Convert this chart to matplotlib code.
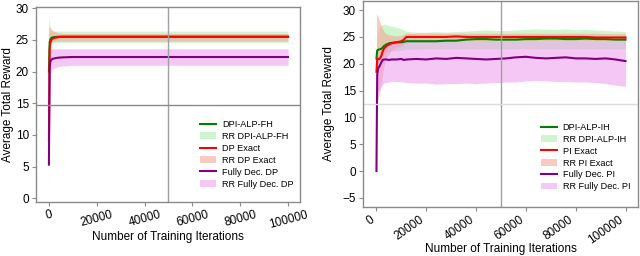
import matplotlib
matplotlib.use("Agg")
import matplotlib.pyplot as plt

plt.rcParams['font.family'] = ['Liberation Sans', 'DejaVu Sans']

# ---- left panel: finite horizon ----
x_fh = [0, 300, 600, 1000, 1500, 2500, 4000, 6000, 10000, 20000, 40000, 60000, 80000, 100000]
alp_fh = [20.0, 24.6, 25.1, 25.3, 25.4, 25.45, 25.5, 25.5, 25.5, 25.5, 25.5, 25.5, 25.5, 25.5]
alp_fh_lo = [10.0, 24.0, 24.4, 24.5, 24.6, 24.6, 24.6, 24.6, 24.6, 24.6, 24.6, 24.6, 24.6, 24.6]
alp_fh_hi = [27.5, 26.6, 26.5, 26.4, 26.4, 26.4, 26.4, 26.4, 26.4, 26.4, 26.4, 26.4, 26.4, 26.4]
dp_exact = [9.0, 23.5, 24.6, 25.0, 25.2, 25.35, 25.45, 25.5, 25.5, 25.5, 25.5, 25.5, 25.5, 25.5]
dp_exact_lo = [5.0, 23.5, 24.3, 24.6, 24.7, 24.8, 24.8, 24.8, 24.8, 24.8, 24.8, 24.8, 24.8, 24.8]
dp_exact_hi = [28.5, 27.2, 27.0, 26.8, 26.5, 26.3, 26.1, 26.0, 26.0, 26.0, 26.0, 26.0, 26.0, 26.0]
dec_dp = [5.3, 20.5, 21.6, 21.9, 22.0, 22.1, 22.2, 22.25, 22.3, 22.3, 22.3, 22.3, 22.3, 22.3]
dec_dp_lo = [1.0, 18.9, 19.6, 20.2, 20.4, 20.6, 20.8, 20.9, 21.0, 21.0, 21.0, 21.0, 21.0, 21.0]
dec_dp_hi = [29.0, 23.5, 23.6, 23.6, 23.6, 23.6, 23.6, 23.6, 23.6, 23.6, 23.6, 23.6, 23.6, 23.6]

# ---- right panel: infinite horizon ----
x_ih = [0, 300, 700, 1200, 2000, 2500, 3000, 4000, 5000, 6000, 8000, 10000, 11000, 12000,
        16000, 20000, 24000, 28000, 32000, 36000, 40000, 44000, 48000, 52000, 56000, 60000,
        64000, 68000, 72000, 76000, 80000, 84000, 88000, 92000, 96000, 100000]
alp_ih = [21.0, 22.5, 22.6, 22.7, 22.8, 23.0, 23.3, 23.6, 23.8, 23.9, 24.0, 24.0, 24.1, 24.2,
          24.2, 24.2, 24.2, 24.3, 24.3, 24.5, 24.6, 24.6, 24.5, 24.5, 24.5, 24.6,
          24.6, 24.7, 24.7, 24.6, 24.6, 24.7, 24.6, 24.6, 24.5, 24.5]
alp_ih_lo = [20.5, 19.5, 20.0, 20.5, 21.0, 21.5, 21.8, 22.0, 22.2, 22.3, 22.4, 22.5, 22.6, 22.7,
             22.7, 22.8, 22.8, 22.8, 22.8, 22.8, 22.8, 22.8, 22.8, 22.8, 22.8, 22.8,
             22.8, 22.8, 22.8, 22.8, 22.8, 22.8, 22.8, 22.8, 22.8, 22.8]
alp_ih_hi = [21.5, 25.0, 26.0, 26.8, 27.2, 27.3, 27.4, 27.3, 27.1, 27.0, 26.8, 26.5, 26.3, 26.0,
             25.9, 25.9, 26.0, 25.9, 26.0, 26.1, 26.2, 26.3, 26.2, 26.2, 26.3, 26.4,
             26.5, 26.4, 26.4, 26.5, 26.3, 26.4, 26.3, 26.2, 26.1, 26.0]
pi_exact = [18.5, 20.9, 20.9, 20.9, 21.5, 22.3, 22.8, 23.3, 23.6, 23.8, 24.0, 24.2, 24.5, 25.0,
            25.0, 25.0, 25.0, 25.0, 25.1, 25.0, 25.0, 25.0, 25.0, 25.0, 25.0, 25.0,
            25.0, 25.0, 25.0, 25.0, 25.0, 25.0, 24.9, 24.9, 24.9, 24.9]
pi_exact_lo = [13.0, 13.2, 13.5, 14.5, 16.5, 18.0, 19.5, 21.0, 22.0, 22.5, 23.0, 23.3, 23.6, 24.2,
               24.3, 24.3, 24.3, 24.3, 24.3, 24.3, 24.3, 24.3, 24.3, 24.3, 24.3, 24.3,
               24.3, 24.3, 24.3, 24.3, 24.3, 24.3, 24.3, 24.3, 24.3, 24.3]
pi_exact_hi = [29.3, 29.0, 28.6, 28.0, 27.0, 26.5, 26.0, 25.6, 25.4, 25.3, 25.2, 25.3, 25.5, 25.7,
               25.7, 25.7, 25.7, 25.7, 25.7, 25.7, 25.7, 25.7, 25.7, 25.7, 25.7, 25.7,
               25.7, 25.7, 25.7, 25.7, 25.7, 25.7, 25.7, 25.6, 25.6, 25.6]
dec_pi = [0.0, 18.0, 19.2, 19.5, 20.3, 20.7, 20.8, 20.8, 20.7, 20.8, 20.8, 20.9, 20.7, 20.8,
          20.9, 20.8, 21.0, 20.9, 21.1, 21.0, 20.9, 20.8, 20.9, 21.0, 21.2, 21.3,
          21.1, 21.0, 21.1, 21.2, 21.0, 21.0, 20.9, 21.0, 20.8, 20.5]
dec_pi_lo = [-0.5, 15.0, 14.8, 15.2, 15.8, 16.2, 16.4, 16.5, 16.6, 16.7, 16.7, 16.6, 16.6, 16.5,
             16.4, 16.4, 16.2, 16.3, 16.3, 16.4, 16.3, 16.4, 16.5, 16.6, 16.6, 16.8,
             16.9, 16.8, 16.7, 16.7, 16.6, 16.6, 16.5, 16.3, 16.0, 15.8]
dec_pi_hi = [0.5, 21.0, 21.5, 22.0, 22.8, 23.3, 23.5, 23.8, 23.9, 24.0, 24.1, 24.2, 24.2, 24.3,
             24.3, 24.3, 24.3, 24.3, 24.3, 24.3, 24.3, 24.3, 24.3, 24.3, 24.3, 24.3,
             24.3, 24.3, 24.3, 24.3, 24.3, 24.3, 24.3, 24.3, 24.3, 24.3]

xticks = [0, 20000, 40000, 60000, 80000, 100000]
GRAY = '#8a8a8a'


def draw_panel(ax, x, series, labels, yticks, ylim, xrot, xha, hline_color,
               xlab_y, ylab_x, leg_anchor):
    """Plot three mean lines with their shaded ranges on one axes."""
    line_colors = ['green', 'red', 'purple']
    band_colors = ['#a8eea8', '#f4a08f', '#ee9aee']
    for (mean, lo, hi), (lab_line, lab_band), lc, bc in zip(series, labels, line_colors, band_colors):
        ax.plot(x, mean, color=lc, lw=1.5, label=lab_line)
        ax.fill_between(x, lo, hi, color=bc, alpha=0.55, lw=0, label=lab_band)

    ax.set_xlim(-5400, 105000)
    ax.set_ylim(*ylim)
    ax.set_xticks(xticks)
    ax.set_xticklabels([str(t) for t in xticks], rotation=xrot, ha=xha)
    ax.set_yticks(yticks)
    ax.tick_params(direction='out', length=3, color=GRAY, labelsize=8.5, pad=2)

    # centre cross lines
    ax.plot([0.5, 0.5], [0, 1], color='#a0a0a0', lw=1, transform=ax.transAxes)
    ax.plot([0, 1], [0.5, 0.5], color=hline_color, lw=1, transform=ax.transAxes)

    for sp in ax.spines.values():
        sp.set_color(GRAY)
        sp.set_linewidth(1)

    ax.set_xlabel('Number of Training Iterations', fontsize=8.5)
    ax.set_ylabel('Average Total Reward', fontsize=8.5)
    ax.xaxis.set_label_coords(0.5, xlab_y)
    ax.yaxis.set_label_coords(ylab_x, 0.5)
    ax.legend(loc='lower right', bbox_to_anchor=leg_anchor, frameon=False,
              fontsize=6.6, handlelength=1.8, handletextpad=0.6,
              labelspacing=0.32, borderaxespad=0.0)


fig = plt.figure(figsize=(6.4, 2.56), dpi=100)

ax1 = fig.add_axes([36 / 640, 54 / 256, 264 / 640, 195 / 256])
draw_panel(ax1, x_fh,
           [(alp_fh, alp_fh_lo, alp_fh_hi), (dp_exact, dp_exact_lo, dp_exact_hi),
            (dec_dp, dec_dp_lo, dec_dp_hi)],
           [('DPI-ALP-FH', 'RR DPI-ALP-FH'), ('DP Exact', 'RR DP Exact'),
            ('Fully Dec. DP', 'RR Fully Dec. DP')],
           [0, 5, 10, 15, 20, 25, 30], (-0.6, 30.2), 15, 'center', GRAY,
           -0.15, -0.085, (0.989, 0.05))

ax2 = fig.add_axes([363 / 640, 49 / 256, 275 / 640, 206 / 256])
draw_panel(ax2, x_ih,
           [(alp_ih, alp_ih_lo, alp_ih_hi), (pi_exact, pi_exact_lo, pi_exact_hi),
            (dec_pi, dec_pi_lo, dec_pi_hi)],
           [('DPI-ALP-IH', 'RR DPI-ALP-IH'), ('PI Exact', 'RR PI Exact'),
            ('Fully Dec. PI', 'RR Fully Dec. PI')],
           [-5, 0, 5, 10, 15, 20, 25, 30], (-6.7, 31.7), 35, 'right', '#dcdcdc',
           -0.175, -0.102, (0.985, 0.058))

fig.savefig('out.png', dpi=100)
